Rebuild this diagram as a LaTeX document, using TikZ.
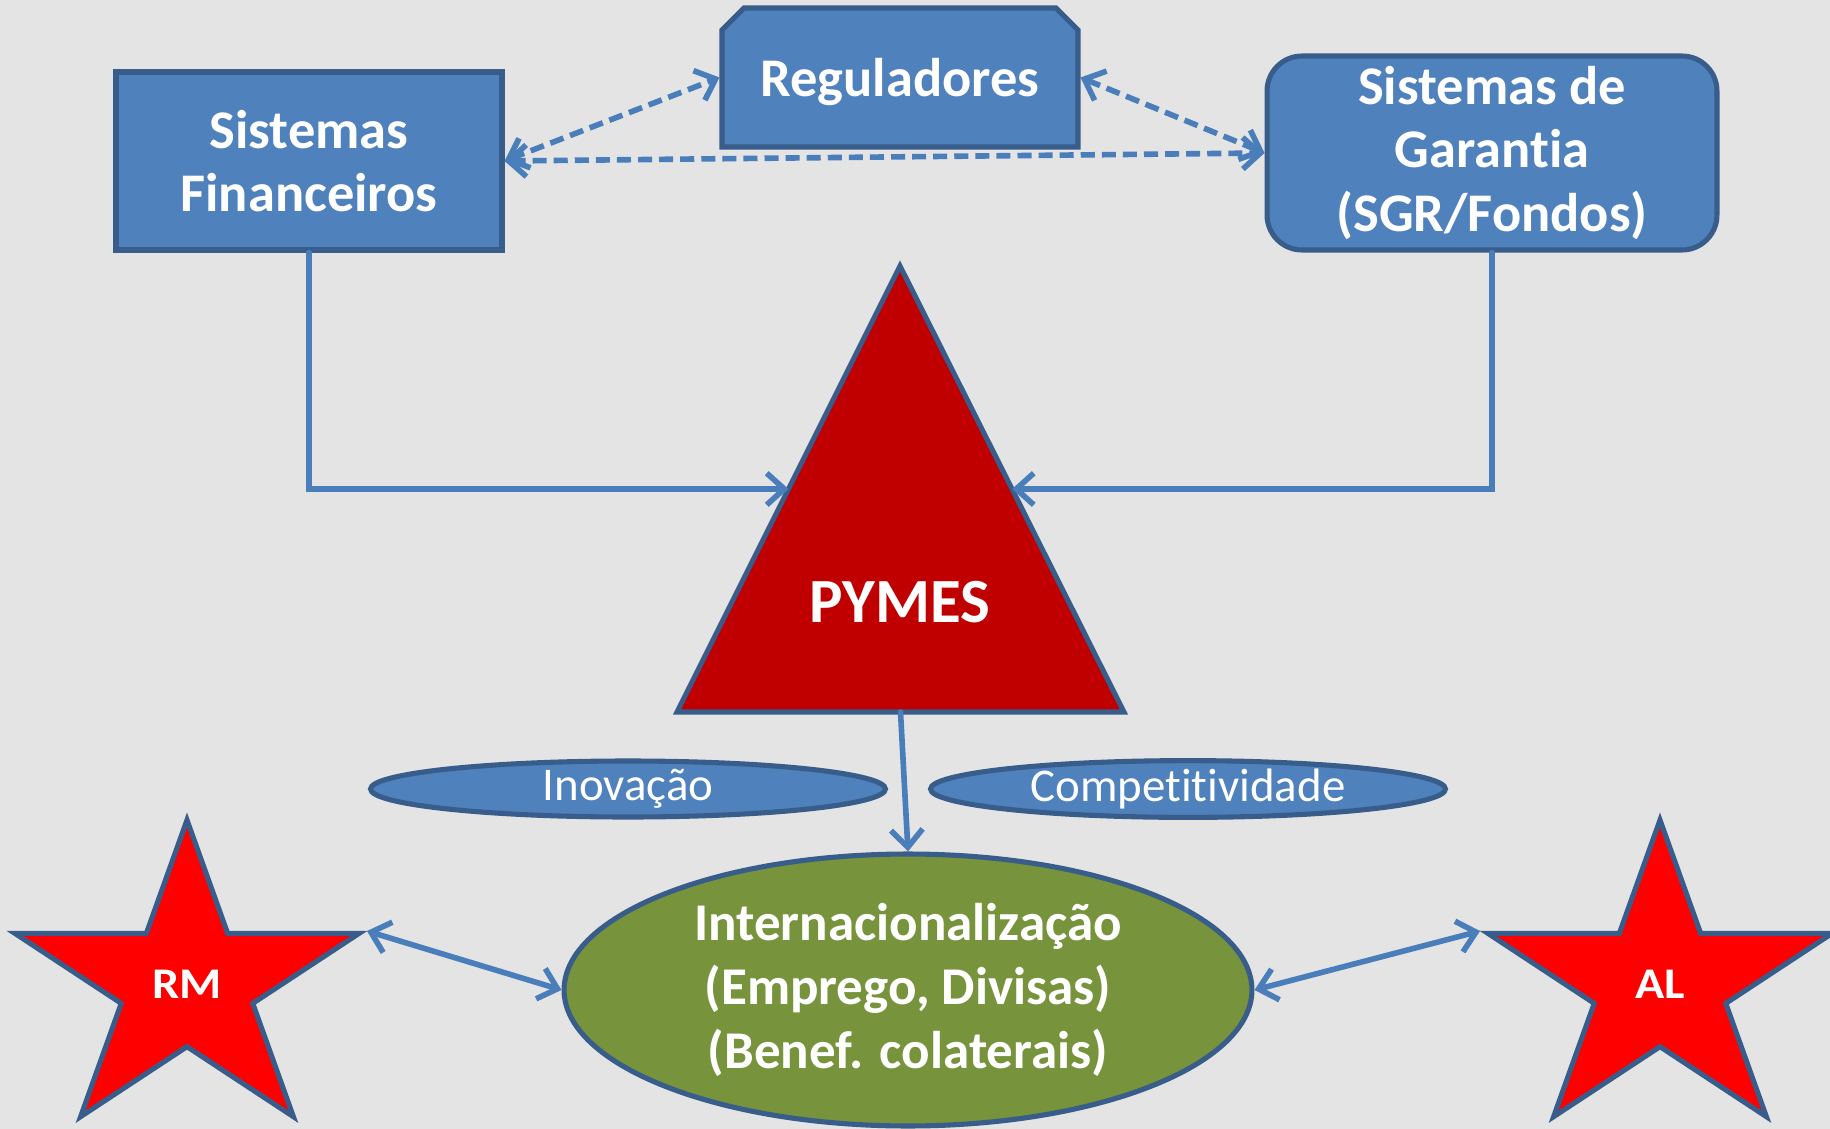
\documentclass[tikz,border=0pt]{standalone}
\usepackage{fontspec}
\setmainfont{Carlito}[Ligatures=NoCommon]
\usetikzlibrary{arrows.meta,shapes.misc,shapes.geometric,calc}
\definecolor{paper}{HTML}{E4E4E4}
\definecolor{boxblue}{HTML}{4F81BD}
\definecolor{edgeblue}{HTML}{385D8A}
\definecolor{linkblue}{HTML}{4A7EBB}
\definecolor{pymesred}{HTML}{C00000}
\definecolor{starred}{HTML}{FF0000}
\definecolor{intgreen}{HTML}{77933C}

\begin{document}
\begin{tikzpicture}[x=0.02cm, y=-0.02cm,
    >={Straight Barb[length=10pt,width=18pt]},
    actor/.style={draw=edgeblue, fill=boxblue, line width=2.9pt, align=center,
      inner sep=0pt, text=white, font=\fontsize{31}{36.3}\selectfont\bfseries},
    tag/.style={ellipse, draw=edgeblue, fill=boxblue, line width=2.9pt, inner sep=0pt,
      minimum width=10.3cm, minimum height=1.12cm, text=white,
      font=\fontsize{26.7}{30}\selectfont},
    country/.style={star, star points=5, star point ratio=2.618, draw=edgeblue,
      fill=starred, line width=2.9pt, inner sep=0pt, minimum size=7.24cm,
      yscale=0.906, transform shape, text=white,
      font=\fontsize{27.5}{30}\selectfont\bfseries},
    link/.style={linkblue, line width=3.2pt, line cap=round},
    dlink/.style={link, line cap=butt, dash pattern=on 8pt off 4pt}]
  \useasboundingbox (0,0) rectangle (1830,1129);
  \fill [paper] (0,0) rectangle (1830,1129);

  % the three actors on top
  \node [actor, minimum width=7.72cm, minimum height=3.56cm] (fin) at (309,161)
    {Sistemas\\Financeiros};
  \node [actor, chamfered rectangle, chamfered rectangle corners={north west,north east},
    chamfered rectangle xsep=0.22cm, chamfered rectangle ysep=0.22cm, text depth=0pt,
    minimum width=7.12cm, minimum height=2.78cm] (reg) at (900,77.5) {Reguladores};
  \node [actor, rounded corners=0.7cm, minimum width=9cm, minimum height=3.88cm] (gar)
    at (1492,153) {Sistemas de\\Garantia\\(SGR/Fondos)};

  % the triangle
  \draw [draw=edgeblue, fill=pymesred, line width=2.9pt]
    (900,266) coordinate (apex) -- (1124,712) coordinate (baseR)
    -- (677,712) coordinate (baseL) -- cycle;
  \node [text=white, font=\fontsize{35.8}{40}\selectfont\bfseries] (pymes) at (900,602) {PYMES};

  \node [tag] (inov) at (628,789) {Inovação};
  \node [tag] (comp) at (1188,789) {Competitividade};
  \node [actor, ellipse, fill=intgreen, minimum width=13.76cm, minimum height=5.44cm,
    font=\fontsize{30.2}{36.4}\selectfont\bfseries] (intl) at (908,990)
    {Internacionalização\\(Emprego, Divisas)\\(Benef. colaterais)};

  \node [country] (rm) at (187,984) {RM};
  \node [country] (al) at (1660,984) {AL};

  % connectors
  \draw [dlink, <->] (fin.east) -- (reg.west);
  \draw [dlink, <->] (fin.east) -- (gar.west);
  \draw [dlink, <->] (reg.east) -- (gar.west);
  \draw [link, ->] (fin.south) |- ($(apex)!0.5!(baseL)$);
  \draw [link, ->] (gar.south) |- ($(apex)!0.5!(baseR)$);
  \draw [link, ->] ($(baseL)!0.5!(baseR)$) -- (intl.north);
  \draw [link, <->] (rm.outer point 5) -- (intl.west);
  \draw [link, <->] (intl.east) -- (al.outer point 2);
\end{tikzpicture}
\end{document}
